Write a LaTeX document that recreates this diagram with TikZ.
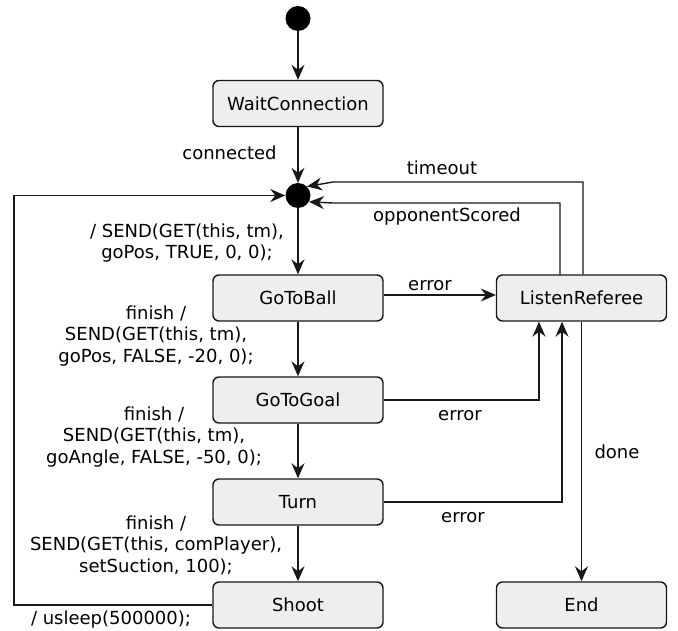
\documentclass[tikz,border=0pt]{standalone}
\usepackage{fontspec}
\setmainfont{DejaVu Sans}
\usetikzlibrary{arrows.meta}
\definecolor{statefill}{HTML}{EEEEEE}
\definecolor{lineclr}{HTML}{181818}
\begin{document}
\begin{tikzpicture}[x=1pt,y=-1pt,
    state/.style={draw=lineclr,fill=statefill,rounded corners=6pt,line width=1.4pt,
      minimum width=170pt,minimum height=46pt,font=\fontsize{18}{21.5}\selectfont},
    pseudo/.style={circle,fill=black,inner sep=0pt,minimum size=25pt},
    lbl/.style={inner sep=0pt,align=center,font=\fontsize{18}{21.5}\selectfont},
    trans/.style={draw=lineclr,line width=1.4pt,-{Stealth[length=15pt,width=13pt,inset=5pt]}}]
    \useasboundingbox (0,0) rectangle (678,631);

    \node[pseudo] (init) at (298,18.5){};
    \node[state] (wait) at (298,103.5){WaitConnection};
    \node[pseudo] (junc) at (298,195.5){};
    \node[state] (ball) at (298,298){GoToBall};
    \node[state] (goal) at (298,400){GoToGoal};
    \node[state] (turn) at (298,502){Turn};
    \node[state] (shoot) at (298,605){Shoot};
    \node[state] (listen) at (581.5,298){ListenReferee};
    \node[state] (end) at (581.5,605){End};

    \draw[trans] (init) -- (wait);
    \draw[trans] (wait) -- (junc);
    \draw[trans] (junc) -- (ball);
    \draw[trans] (ball) -- (goal);
    \draw[trans] (goal) -- (turn);
    \draw[trans] (turn) -- (shoot);
    \draw[trans] (shoot.west) -- (14,605) |- (junc.west);
    \draw[trans] ([yshift=3pt]ball.east) -- ([yshift=3pt]ball.east -| listen.west);
    \draw[trans] (goal.east) -| ([xshift=-42.5pt]listen.south);
    \draw[trans] (turn.east) -| ([xshift=-19.5pt]listen.south);
    \draw[trans] (listen) -- (end);
    \draw[trans] ([xshift=1.5pt]listen.north) |- (333,182) -- (junc.45);
    \draw[trans] ([xshift=-21.5pt]listen.north) |- (333,203) -- (junc.-30);

    \node[lbl] (lconn) at (229.5,153){connected};
    \node[lbl] (lsend) at (187,243){/ SEND(GET(this, tm),\\goPos, TRUE, 0, 0);};
    \node[lbl] (lfinA) at (156,336){finish /\\SEND(GET(this, tm),\\goPos, FALSE, -20, 0);};
    \node[lbl] (lfinB) at (154,437){finish /\\SEND(GET(this, tm),\\goAngle, FALSE, -50, 0);};
    \node[lbl] (lfinC) at (156,545){finish /\\SEND(GET(this, comPlayer),\\setSuction, 100);};
    \node[lbl] (lsleep) at (111,620){/ usleep(500000);};
    \node[lbl] (ltime) at (442,168){timeout};
    \node[lbl] (lopp) at (447,217){opponentScored};
    \node[lbl] (lerrA) at (430,286){error};
    \node[lbl] (lerrB) at (460,416){error};
    \node[lbl] (lerrC) at (463,518){error};
    \node[lbl] (ldone) at (617,452){done};
  \end{tikzpicture}
\end{document}
